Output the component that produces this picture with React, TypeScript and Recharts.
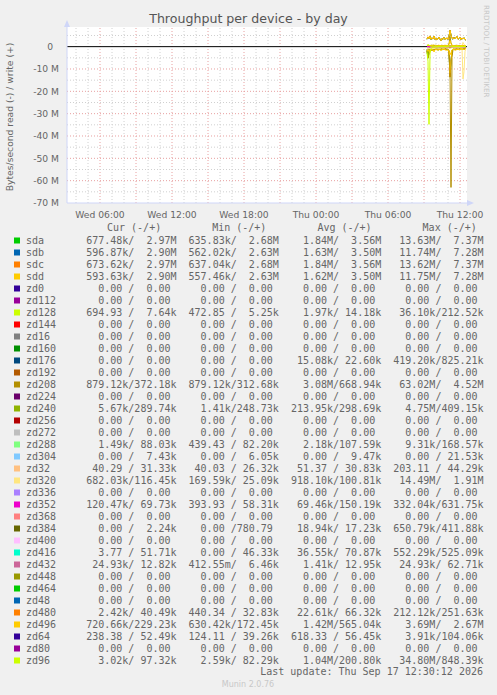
import { LineChart, Line, XAxis, YAxis, ReferenceLine, CartesianGrid } from 'recharts';

// x axis is minutes since Wed 00:00
const windowStart = 195; // Wed 03:15
const windowEnd = 2195; // Thu 12:35
const timeTicks = [360, 720, 1080, 1440, 1800, 2160];
const timeTickLabels = ['Wed 06:00', 'Wed 12:00', 'Wed 18:00', 'Thu 00:00', 'Thu 06:00', 'Thu 12:00'];
const valueTicks = [0, -10, -20, -30, -40, -50, -60, -70];

// 5 minute samples, Thu 09:15 .. Thu 12:30 (values in MB/s, read negative)
const sampleTimes = [
  1995, 2000, 2005, 2010, 2015, 2020, 2025, 2030, 2035, 2040, 2045, 2050, 2055, 2060, 2065, 2070, 2075, 2080, 2085, 2090,
  2095, 2100, 2105, 2110, 2115, 2120, 2125, 2130, 2135, 2140, 2145, 2150, 2155, 2160, 2165, 2170, 2175, 2180, 2185, 2190,
];

const sdaW = [3.4, 4.3, 3.7, 4.8, 3.2, 4.0, 3.5, 4.6, 3.3, 3.9, 3.1, 3.6, 4.2, 3.4, 2.7, 3.7, 3.3, 4.1, 3.2, 3.5, 3.9, 3.3, 4.4, 7.37, 5.1, 3.8, 3.4, 4.2, 3.6, 3.9, 4.5, 3.4, 3.7, 4.3, 3.2, 3.8, 3.5, 4.0, 3.3, 2.97];
const sdaR = [-1.9, -5.2, -3.1, -1.6, -1.3, -1.9, -1.2, -1.5, -1.1, -1.4, -1.0, -1.6, -1.2, -0.9, -1.3, -1.1, -1.5, -1.0, -1.2, -0.9, -1.4, -1.1, -2.6, -13.63, -6.8, -1.9, -1.3, -1.1, -1.5, -1.0, -1.2, -0.9, -1.4, -1.1, -0.64, -1.3, -1.0, -1.2, -0.9, -0.68];
const sdbW = [3.3, 4.1, 3.6, 4.6, 3.1, 3.8, 3.4, 4.5, 3.2, 3.8, 3.0, 3.5, 4.1, 3.3, 2.65, 3.6, 3.2, 4.0, 3.1, 3.4, 3.8, 3.2, 4.3, 7.28, 5.0, 3.7, 3.3, 4.1, 3.5, 3.8, 4.4, 3.3, 3.6, 4.2, 3.1, 3.7, 3.4, 3.9, 3.2, 2.9];
const sdbR = [-1.7, -4.6, -2.8, -1.5, -1.2, -1.7, -1.1, -1.4, -1.0, -1.3, -0.9, -1.4, -1.1, -0.8, -1.2, -1.0, -1.3, -0.9, -1.1, -0.8, -1.3, -1.0, -2.3, -11.74, -6.0, -1.7, -1.2, -1.0, -1.4, -0.9, -1.1, -0.8, -1.3, -1.0, -0.56, -1.2, -0.9, -1.1, -0.8, -0.6];
const sdcW = [3.4, 4.4, 3.7, 4.8, 3.3, 4.0, 3.5, 4.7, 3.3, 3.9, 3.1, 3.6, 4.3, 3.4, 2.7, 3.7, 3.4, 4.1, 3.2, 3.5, 4.0, 3.3, 4.4, 7.37, 5.1, 3.8, 3.5, 4.2, 3.6, 3.9, 4.6, 3.4, 3.7, 4.3, 3.2, 3.9, 3.5, 4.0, 3.3, 2.97];
const sdcR = [-1.9, -5.1, -3.2, -1.6, -1.3, -1.8, -1.2, -1.5, -1.2, -1.4, -1.0, -1.5, -1.2, -0.9, -1.3, -1.1, -1.4, -1.0, -1.2, -0.9, -1.4, -1.1, -2.7, -13.62, -6.7, -1.9, -1.3, -1.1, -1.5, -1.0, -1.2, -1.0, -1.4, -1.1, -0.64, -1.3, -1.0, -1.2, -0.9, -0.67];
const sddW = [3.3, 4.2, 3.6, 4.6, 3.2, 3.8, 3.4, 4.6, 3.2, 3.8, 3.0, 3.5, 4.2, 3.3, 2.65, 3.6, 3.3, 4.0, 3.1, 3.4, 3.9, 3.2, 4.3, 7.28, 5.0, 3.7, 3.4, 4.1, 3.5, 3.8, 4.5, 3.3, 3.6, 4.2, 3.1, 3.8, 3.4, 3.9, 3.2, 2.9];
const sddR = [-1.7, -4.5, -2.9, -1.5, -1.2, -1.7, -1.1, -1.4, -1.0, -1.3, -0.9, -1.4, -1.1, -0.8, -1.2, -1.0, -1.3, -0.9, -1.1, -0.8, -1.3, -1.0, -2.4, -11.75, -6.1, -1.7, -1.2, -1.0, -1.4, -0.9, -1.1, -0.8, -1.3, -1.0, -0.56, -1.2, -0.9, -1.1, -0.8, -0.59];
const zd208W = [0.5, 0.7, 0.4, 0.6, 0.5, 0.8, 0.4, 0.6, 0.5, 0.7, 0.4, 0.5, 0.6, 0.4, 0.5, 0.7, 0.4, 0.6, 0.5, 0.4, 0.6, 0.5, 1.2, 4.52, 1.8, 0.6, 0.5, 0.4, 0.6, 0.5, 0.7, 0.4, 0.5, 0.6, 0.4, 0.5, 0.6, 0.4, 0.31, 0.37];
const zd208R = [-1.2, -1.8, -1.1, -1.5, -0.9, -1.3, -1.0, -1.6, -1.1, -1.4, -0.9, -1.2, -1.0, -1.5, -1.1, -0.9, -1.3, -1.0, -1.2, -0.9, -1.4, -1.1, -1.6, -9.5, -63.02, -4.8, -1.3, -1.0, -1.2, -0.9, -1.1, -1.3, -0.9, -1.0, -1.2, -0.9, -1.1, -1.0, -0.9, -0.88];
const zd240W = [0.3, 0.41, 0.28, 0.32, 0.26, 0.3, 0.29, 0.35, 0.27, 0.31, 0.25, 0.3, 0.33, 0.28, 0.3, 0.26, 0.32, 0.29, 0.27, 0.31, 0.3, 0.28, 0.34, 0.38, 0.32, 0.29, 0.27, 0.3, 0.28, 0.31, 0.26, 0.29, 0.3, 0.28, 0.27, 0.3, 0.29, 0.31, 0.28, 0.29];
const zd240R = [-1.2, -4.75, -0.4, -0.1, -0.05, -0.08, -0.04, -0.06, -0.03, -0.05, -0.04, -0.02, -0.06, -0.03, -0.05, -0.02, -0.04, -0.03, -0.05, -0.02, -0.03, -0.04, -0.1, -0.3, -0.12, -0.04, -0.03, -0.02, -0.04, -0.03, -0.02, -0.03, -0.04, -0.02, -0.001, -0.03, -0.02, -0.03, -0.01, -0.006];
const zd320W = [0.1, 0.12, 0.08, 0.11, 0.09, 0.1, 0.13, 0.08, 0.1, 0.09, 0.11, 0.1, 0.08, 0.12, 0.09, 0.1, 0.11, 0.08, 0.1, 0.09, 0.12, 0.1, 0.11, 0.2, 0.12, 0.09, 0.1, 0.08, 0.11, 0.09, 0.1, 0.08, 0.03, 0.09, 0.1, 0.3, 1.91, 1.1, 0.3, 0.12];
const zd320R = [-0.9, -0.7, -0.8, -0.6, -0.9, -0.5, -0.7, -0.8, -0.6, -0.4, -0.7, -0.5, -0.6, -0.8, -0.5, -0.4, -0.6, -0.7, -0.5, -0.3, -0.6, -0.5, -0.7, -0.9, -0.6, -0.4, -0.5, -0.6, -0.3, -0.5, -0.4, -0.6, -0.5, -0.17, -0.4, -0.6, -14.49, -11.2, -2.1, -0.68];
const zd352W = [0.15, 0.2, 0.12, 0.18, 0.1, 0.14, 0.16, 0.12, 0.09, 0.15, 0.13, 0.11, 0.17, 0.12, 0.14, 0.1, 0.16, 0.13, 0.11, 0.15, 0.12, 0.14, 0.2, 0.63, 0.3, 0.14, 0.12, 0.1, 0.15, 0.13, 0.11, 0.14, 0.12, 0.06, 0.13, 0.11, 0.15, 0.12, 0.1, 0.07];
const zd352R = [-0.05, -0.1, -0.06, -0.08, -0.04, -0.07, -0.05, -0.09, -0.06, -0.05, -0.07, -0.04, -0.06, -0.08, -0.05, -0.06, -0.04, -0.07, -0.05, -0.06, -0.08, -0.05, -0.12, -0.33, -0.15, -0.06, -0.05, -0.07, -0.04, -0.06, -0.05, -0.07, -0.0004, -0.06, -0.05, -0.07, -0.06, -0.08, -0.1, -0.12];
const zd496W = [0.5, 0.8, 0.4, 0.7, 0.3, 0.6, 0.5, 0.9, 0.4, 0.6, 0.3, 0.5, 0.7, 0.4, 0.6, 0.3, 0.5, 0.4, 0.7, 0.5, 0.6, 0.4, 1.1, 2.67, 1.3, 0.5, 0.4, 0.6, 0.3, 0.5, 0.4, 0.6, 0.17, 0.5, 0.4, 0.6, 0.3, 0.5, 0.4, 0.23];
const zd496R = [-1.5, -2.1, -1.3, -1.8, -1.1, -1.6, -1.2, -2.4, -1.4, -1.0, -1.7, -1.3, -1.5, -1.1, -1.9, -1.2, -1.4, -1.0, -1.6, -1.3, -1.8, -1.2, -2.0, -3.69, -2.6, -1.4, -1.1, -1.5, -1.3, -1.7, -1.0, -1.4, -1.2, -1.6, -0.63, -1.3, -1.1, -1.4, -0.9, -0.72];
const zd96W = [0.3, 0.85, 0.6, 0.3, 0.2, 0.15, 0.2, 0.1, 0.15, 0.2, 0.12, 0.1, 0.18, 0.14, 0.1, 0.2, 0.15, 0.12, 0.1, 0.16, 0.2, 0.14, 0.3, 0.5, 0.25, 0.15, 0.12, 0.1, 0.16, 0.2, 0.12, 0.1, 0.15, 0.18, 0.12, 0.1, 0.14, 0.12, 0.08, 0.097];
const zd96R = [-2.6, -6.5, -34.8, -3.2, -0.9, -0.4, -0.3, -0.2, -0.15, -0.1, -0.2, -0.1, -0.05, -0.1, -0.08, -0.05, -0.1, -0.06, -0.04, -0.08, -0.05, -0.03, -0.06, -0.2, -0.1, -0.04, -0.03, -0.05, -0.03, -0.04, -0.02, -0.03, -0.05, -0.02, -0.03, -0.01, -0.02, -0.03, -0.01, -0.003];

// plotted in legend order so later devices sit on top
const plotted = [
  { key: 'sda', color: '#00CC00', w: sdaW, r: sdaR },
  { key: 'sdb', color: '#0066B3', w: sdbW, r: sdbR },
  { key: 'sdc', color: '#FF8000', w: sdcW, r: sdcR },
  { key: 'sdd', color: '#FFCC00', w: sddW, r: sddR },
  { key: 'zd208', color: '#B38F00', w: zd208W, r: zd208R },
  { key: 'zd240', color: '#8FB300', w: zd240W, r: zd240R },
  { key: 'zd320', color: '#FFE680', w: zd320W, r: zd320R },
  { key: 'zd352', color: '#EE00CC', w: zd352W, r: zd352R },
  { key: 'zd496', color: '#FFCC00', w: zd496W, r: zd496R },
  { key: 'zd96', color: '#CCFF00', w: zd96W, r: zd96R },
];

const rows = sampleTimes.map((t, i) => {
  const row: Record<string, number> = { t };
  plotted.forEach(s => {
    row[s.key + '_w'] = s.w[i];
    row[s.key + '_r'] = s.r[i];
  });
  return row;
});

// legend table
const Z = '  0.00 /  0.00 ';
const legendNames = ['sda', 'sdb', 'sdc', 'sdd', 'zd0', 'zd112', 'zd128', 'zd144', 'zd16', 'zd160', 'zd176', 'zd192', 'zd208', 'zd224', 'zd240', 'zd256', 'zd272', 'zd288', 'zd304', 'zd32', 'zd320', 'zd336', 'zd352', 'zd368', 'zd384', 'zd400', 'zd416', 'zd432', 'zd448', 'zd464', 'zd48', 'zd480', 'zd496', 'zd64', 'zd80', 'zd96'];
const legendColors = ['#00CC00', '#0066B3', '#FF8000', '#FFCC00', '#330099', '#990099', '#CCFF00', '#FF0000', '#808080', '#008F00', '#00487D', '#B35A00', '#B38F00', '#6B006B', '#8FB300', '#B30000', '#BEBEBE', '#80FF80', '#80C9FF', '#FFC080', '#FFE680', '#AA80FF', '#EE00CC', '#FF8080', '#666600', '#FFBFFF', '#00FFCC', '#CC6699', '#999900', '#00CC00', '#0066B3', '#FF8000', '#FFCC00', '#330099', '#990099', '#CCFF00'];
const curCol = ['677.48k/  2.97M', '596.87k/  2.90M', '673.62k/  2.97M', '593.63k/  2.90M', Z, Z, '694.93 /  7.64k', Z, Z, Z, Z, Z, '879.12k/372.18k', Z, '  5.67k/289.74k', Z, Z, '  1.49k/ 88.03k', '  0.00 /  7.43k', ' 40.29 / 31.33k', '682.03k/116.45k', Z, '120.47k/ 69.73k', Z, '  0.00 /  2.24k', Z, '  3.77 / 51.71k', ' 24.93k/ 12.82k', Z, Z, Z, '  2.42k/ 40.49k', '720.66k/229.23k', '238.38 / 52.49k', Z, '  3.02k/ 97.32k'];
const minCol = ['635.83k/  2.68M', '562.02k/  2.63M', '637.04k/  2.68M', '557.46k/  2.63M', Z, Z, '472.85 /  5.25k', Z, Z, Z, Z, Z, '879.12k/312.68k', Z, '  1.41k/248.73k', Z, Z, '439.43 / 82.20k', '  0.00 /  6.05k', ' 40.03 / 26.32k', '169.59k/ 25.09k', Z, '393.93 / 58.31k', Z, '  0.00 /780.79 ', Z, '  0.00 / 46.33k', '412.55m/  6.46k', Z, Z, Z, '440.34 / 32.83k', '630.42k/172.45k', '124.11 / 39.26k', Z, '  2.59k/ 82.29k'];
const avgCol = ['  1.84M/  3.56M', '  1.63M/  3.50M', '  1.84M/  3.56M', '  1.62M/  3.50M', Z, Z, '  1.97k/ 14.18k', Z, Z, Z, ' 15.08k/ 22.60k', Z, '  3.08M/668.94k', Z, '213.95k/298.69k', Z, Z, '  2.18k/107.59k', '  0.00 /  9.47k', ' 51.37 / 30.83k', '918.10k/100.81k', Z, ' 69.46k/150.19k', Z, ' 18.94k/ 17.23k', Z, ' 36.55k/ 70.87k', '  1.41k/ 12.95k', Z, Z, Z, ' 22.61k/ 66.32k', '  1.42M/565.04k', '618.33 / 56.45k', Z, '  1.04M/200.80k'];
const maxCol = [' 13.63M/  7.37M', ' 11.74M/  7.28M', ' 13.62M/  7.37M', ' 11.75M/  7.28M', Z, Z, ' 36.10k/212.52k', Z, Z, Z, '419.20k/825.21k', Z, ' 63.02M/  4.52M', Z, '  4.75M/409.15k', Z, Z, '  9.31k/168.57k', '  0.00 / 21.53k', '203.11 / 44.29k', ' 14.49M/  1.91M', Z, '332.04k/631.75k', Z, '650.79k/411.88k', Z, '552.29k/525.09k', ' 24.93k/ 62.71k', Z, Z, Z, '212.12k/251.63k', '  3.69M/  2.67M', '  3.91k/104.06k', Z, ' 34.80M/848.39k'];
const legendHeaders = ['Cur (-/+)', 'Min (-/+)', 'Avg (-/+)', 'Max (-/+)'];

const hourLines = [240, 300, 360, 420, 480, 540, 600, 660, 720, 780, 840, 900, 960, 1020, 1080, 1140, 1200, 1260, 1320, 1380, 1440, 1500, 1560, 1620, 1680, 1740, 1800, 1860, 1920, 1980, 2040, 2100, 2160];
const valueLines = [5, -5, -10, -15, -20, -25, -30, -35, -40, -45, -50, -55, -60, -65];

const sans = 'DejaVu Sans, sans-serif';
const mono = 'DejaVu Sans Mono, monospace';
const fontColor = '#666666';
const axisColor = '#CFD6F8';

export default function App() {
  return (
    <div style={{ position: 'fixed', left: 0, top: 0, width: 497, height: 695, background: '#F0F0F0' }}>
      <div style={{ position: 'absolute', left: 0, top: 0 }}>
        <LineChart width={497} height={223} data={rows} margin={{ top: 27, right: 30, bottom: 0, left: 0 }}>
          <CartesianGrid fill="#ffffff" stroke="none" horizontal={false} vertical={false} />
          {hourLines.map(h => (
            <ReferenceLine key={'h' + h} x={h} stroke={(h / 60) % 3 === 0 ? '#E8A0A0' : '#D0D0D0'} strokeDasharray="1 2" />
          ))}
          {valueLines.map(v => (
            <ReferenceLine key={'v' + v} y={v} stroke={v % 10 === 0 ? '#E8A0A0' : '#D0D0D0'} strokeDasharray="1 2" />
          ))}
          <XAxis dataKey="t" type="number" domain={[windowStart, windowEnd]} ticks={timeTicks} interval={0}
            tickFormatter={v => timeTickLabels[timeTicks.indexOf(v)]}
            tick={{ fill: fontColor, fontSize: 9.2, fontFamily: sans }}
            axisLine={{ stroke: axisColor }} tickLine={false} height={20} allowDataOverflow />
          <YAxis type="number" domain={[-70, 8.8]} ticks={valueTicks} interval={0} width={67}
            tickFormatter={v => (v === 0 ? '0\u00a0\u00a0' : `${v} M`)}
            tick={{ fill: fontColor, fontSize: 9.2, fontFamily: sans }}
            axisLine={{ stroke: axisColor }} tickLine={false} allowDataOverflow />
          <ReferenceLine y={0} stroke="#000000" strokeWidth={1} />
          {plotted.flatMap(s => [
            <Line key={s.key + 'r'} dataKey={s.key + '_r'} stroke={s.color} strokeWidth={1} dot={false} isAnimationActive={false} />,
            <Line key={s.key + 'w'} dataKey={s.key + '_w'} stroke={s.color} strokeWidth={1} dot={false} isAnimationActive={false} />,
          ])}
        </LineChart>
      </div>
      <svg width={497} height={695} style={{ position: 'absolute', left: 0, top: 0, pointerEvents: 'none' }}>
        <text x={248.5} y={23} textAnchor="middle" fontFamily={sans} fontSize={12.6} fill="#555">
          Throughput per device - by day
        </text>
        <text transform="translate(13,117) rotate(-90)" textAnchor="middle" fontFamily={sans} fontSize={9.2} fill={fontColor}>
          Bytes/second read (-) / write (+)
        </text>
        <text transform="translate(484,5) rotate(90)" fontFamily={sans} fontSize={7.2} fill="#C8C8C8">
          RRDTOOL / TOBI OETIKER
        </text>
        <polygon points="64,27 70,27 67,20" fill={axisColor} />
        <polygon points="467,200 467,206 474,203" fill={axisColor} />
        {legendHeaders.map((h, i) => (
          <text key={h} x={107 + i * 105.2} y={230.5} fontFamily={mono} fontSize={10} fill={fontColor} style={{ whiteSpace: 'pre' }}>
            {h}
          </text>
        ))}
        {legendNames.map((n, i) => (
          <g key={n}>
            <rect x={14} y={237.5 + i * 12} width={6} height={6} fill={legendColors[i]} />
            <text x={26} y={243.5 + i * 12} fontFamily={mono} fontSize={10} fill={fontColor} style={{ whiteSpace: 'pre' }}>
              {`${n.padEnd(10)}${curCol[i]}  ${minCol[i]}  ${avgCol[i]}  ${maxCol[i]}`}
            </text>
          </g>
        ))}
        <text x={483} y={675} textAnchor="end" fontFamily={mono} fontSize={10} fill={fontColor}>
          Last update: Thu Sep 17 12:30:12 2026
        </text>
        <text x={248} y={687} textAnchor="middle" fontFamily={sans} fontSize={8} fill="#C8C8C8">
          Munin 2.0.76
        </text>
      </svg>
    </div>
  );
}
